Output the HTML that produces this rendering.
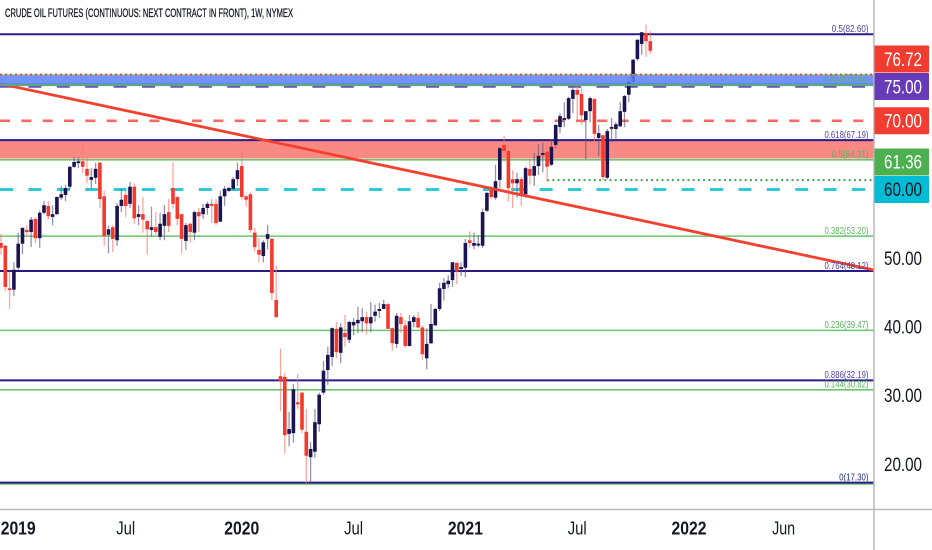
<!DOCTYPE html>
<html lang="en">
<head>
<meta charset="utf-8">
<title>Crude Oil Futures weekly chart</title>
<style>
html,body{margin:0;padding:0;background:#fff;}
svg{display:block;font-family:"Liberation Sans",sans-serif;}
</style>
</head>
<body>
<svg id="chart" width="932" height="550" viewBox="0 0 932 550" xmlns="http://www.w3.org/2000/svg">
<rect x="0" y="0" width="932" height="550" fill="#ffffff"/>
<text x="5" y="17" font-size="11.5" fill="#131722" stroke="#131722" stroke-width="0.3" textLength="288" lengthAdjust="spacingAndGlyphs">CRUDE OIL FUTURES (CONTINUOUS: NEXT CONTRACT IN FRONT), 1W, NYMEX</text>
<g id="under"></g>
<g id="candles"></g>
<g id="over"></g>
<g id="fibs"></g>
<line x1="874" y1="0" x2="874" y2="550" stroke="#b9b9bd" stroke-width="1.5"/>
<line x1="0" y1="509.5" x2="932" y2="509.5" stroke="#b9b9bd" stroke-width="1.5"/>
<g id="axes"></g>
</svg>
<script>
const opens=[52.2,51.8,45.6,45.4,48.6,52.1,54.1,53.8,55.7,52.9,56.6,57.6,56.0,56.4,58.8,59.2,60.4,63.3,63.9,64.1,63.0,61.4,61.7,63.9,59.0,53.4,54.5,52.6,57.6,59.2,
57.9,60.4,56.0,56.4,55.4,54.1,54.5,53.1,54.7,56.7,60.2,58.9,56.4,52.5,55.0,53.7,56.7,56.4,57.3,57.9,57.9,55.3,59.0,59.8,60.1,61.5,63.4,59.0,59.3,53.7,51.2,50.3,52.8,52.8,43.9,
32.8,32.7,24.4,24.5,29.0,30.4,24.7,21.0,21.8,25.8,30.4,33.7,35.6,39.7,
36.2,39.1,38.1,40.2,40.5,40.8,41.4,40.5,41.6,42.3,42.6,43.3,39.8,37.5,41.4,40.2,37.2,40.7,41.3,39.9,35.4,37.6,40.2,42.6,45.5,46.2,46.8,49.3,48.4,48.6,52.6,51.8,51.9,51.8,56.9,59.9,58.8,61.4,66.5,65.6,61.5,60.9,61.5,59.3,63.0,62.0,63.4,65.2,65.5,63.6,66.5,69.1,70.3,70.3,73.2,74.5,73.9,70.1,71.4,73.2,67.5,67.9,61.7,68.9,68.8,69.2,71.3,73.8,75.7,79.0,81.2,82.8,81.6];
const highs=[53.5,51.9,48.0,49.4,53.7,54.5,54.8,56.0,56.0,56.9,58.3,58.3,57.7,59.0,60.5,60.7,63.4,64.7,64.7,66.5,64.9,63.1,63.9,64.0,59.8,54.7,54.8,58.0,60.1,59.9,
61.1,60.9,57.7,58.9,55.6,57.5,56.7,56.6,57.7,58.6,64.0,59.0,56.4,55.1,55.1,56.9,57.3,57.9,58.2,58.6,58.6,59.8,60.5,60.4,61.8,63.9,65.5,59.2,59.6,54.4,52.9,52.6,54.8,52.9,48.9,
36.8,33.3,27.6,31.7,33.1,30.5,28.0,23.2,28.0,30.4,35.0,37.1,39.9,40.7,
40.5,41.7,40.8,41.3,42.9,42.7,42.2,43.6,43.2,43.5,43.9,43.5,39.9,42.0,42.0,41.0,41.7,41.7,42.2,40.2,39.8,43.3,42.7,46.4,47.1,47.5,49.4,49.4,49.4,52.8,53.9,53.7,53.4,57.2,59.6,60.5,63.6,66.2,67.8,66.5,62.8,62.4,61.8,63.3,64.3,65.3,66.6,66.8,66.9,67.2,69.5,71.1,72.7,73.5,75.2,76.1,74.9,71.4,73.5,73.2,69.4,67.9,68.8,70.4,69.8,72.7,73.8,76.4,79.0,81.9,82.9,84.0,83.1];
const lows=[50.5,45.2,42.6,44.5,48.3,50.6,53.1,51.6,52.2,51.5,56.4,55.6,54.8,56.3,58.5,58.3,59.9,63.1,63.1,62.4,60.9,60.1,60.8,57.3,51.8,50.7,50.9,51.8,56.7,56.0,
57.3,55.0,54.8,53.7,50.5,53.1,53.4,52.6,52.6,53.8,57.2,54.8,50.7,51.2,52.3,52.6,53.8,55.7,56.3,55.1,54.8,55.3,57.6,59.6,59.8,60.5,58.5,57.5,53.7,51.0,49.4,49.4,51.3,43.9,41.3,
27.7,21.5,22.6,23.1,28.0,24.5,17.2,17.1,20.9,24.7,30.1,31.5,34.3,35.4,
34.7,37.1,37.6,38.8,39.1,39.2,38.9,39.2,40.7,41.3,42.6,39.7,36.5,36.9,39.1,36.9,37.1,39.9,39.8,35.2,33.8,37.5,40.2,42.3,43.8,45.6,45.8,46.2,47.4,47.2,51.5,51.3,51.6,51.5,56.7,58.6,58.5,60.2,64.0,58.2,57.3,58.8,57.6,58.8,60.7,60.5,62.1,62.5,61.1,63.4,66.0,68.2,69.1,70.1,71.1,70.1,69.4,64.4,69.8,67.1,64.9,61.4,61.5,66.9,67.4,69.1,69.1,72.7,74.8,78.7,79.6,79.3,79.7];
const closes=[51.5,45.8,45.5,48.3,52.1,54.4,53.8,55.6,52.9,56.6,57.7,56.1,56.4,58.9,59.3,60.2,63.3,64.0,64.1,63.3,62.0,61.8,63.0,58.6,53.2,54.2,52.8,57.6,58.5,57.6,
60.4,55.8,56.4,55.6,54.2,54.5,53.8,55.0,56.4,54.7,57.9,55.7,52.8,54.8,53.8,56.7,56.1,57.3,57.9,57.6,55.1,59.0,60.1,60.2,61.5,62.8,58.9,58.5,54.1,51.6,50.5,52.3,53.5,44.9,41.4,
32.0,24.2,25.1,30.9,28.7,25.0,21.2,22.2,26.1,30.1,33.6,35.9,39.8,36.3,
39.9,38.5,40.7,40.7,41.0,41.4,40.5,41.4,42.2,42.6,43.3,39.7,37.6,41.6,40.4,37.2,40.8,41.4,39.9,36.0,37.5,40.4,42.6,45.6,46.4,46.7,49.4,48.1,48.7,52.2,52.2,52.2,52.1,56.7,59.5,58.9,61.2,66.0,65.6,60.2,60.9,61.5,59.3,63.1,62.0,63.4,64.9,65.3,63.3,66.2,69.4,70.7,70.4,73.3,74.5,73.8,70.8,71.4,73.3,68.1,68.2,61.8,68.5,69.1,69.5,71.4,73.6,75.7,78.9,81.8,82.9,81.6,80.2];

const fibRatios=['0.5','0.618','0.618','0.5','0.382','0.764','0.236','0.886','0.144','0','0'];
const fibPrices=[82.60,75.41,67.19,64.31,53.20,48.12,39.47,32.19,30.82,17.30,17.30];
const fibFamilies=['navy','green','navy','green','green','navy','green','navy','green','green','navy'];

const priceTicks=[50,40,30,20];
const markerPrices=[76.72,75.00,70.00,61.36,60.00];
const dashedLevels=[75.00,70.00,60.00];
const dottedLevels=[76.72,61.36];
const resistanceZone=[76.65,75.2];
const supportZone=[67.19,64.5];
const trendlinePrices=[75.4,48.26];
const dateLabels=['2019','Jul','2020','Jul','2021','Jul','2022','Jun'];
const dateWeeks=[4,29,56,82,108,134,160,182];

const SVGNS='http://www.w3.org/2000/svg';
const plotRight=874;
const yScale=p=>34.3+(82.6-p)*6.865;
const xScale=i=>1+4.3*i;
const navy='#1a1451', red='#f5392d', green='#6cc56c';
const under=document.getElementById('under');
const candlesG=document.getElementById('candles');
const over=document.getElementById('over');
const fibsG=document.getElementById('fibs');
const axes=document.getElementById('axes');

function make(tag,parent,attrs){
  const el=document.createElementNS(SVGNS,tag);
  for(const k in attrs) el.setAttribute(k,attrs[k]);
  parent.appendChild(el);
  return el;
}

/* support zone */
{
  const el=make('rect',under,{x:0,y:yScale(supportZone[0]),width:plotRight,height:yScale(supportZone[1])-yScale(supportZone[0]),fill:'#f98a83'});
  
  
}
/* fib lines */
fibPrices.forEach((p,i)=>{
  const isNavy=fibFamilies[i]==='navy';
  const offset=(p===17.30&&!isNavy)?1.4:0;
  const el=make('line',under,{x1:0,x2:plotRight,y1:yScale(p)+offset,y2:yScale(p)+offset,stroke:isNavy?'#2a1a8a':green,'stroke-width':isNavy?2:1.6});
  
  
});
/* dashed levels */
const dashStyles={75:['#6a4fb8','13 15.4',2.6],70:['#f86a60','10 11.33',2.6],60:['#2fcad8','13 15.4',3]};
dashedLevels.forEach(p=>{
  const s=dashStyles[p];
  const el=make('line',under,{x1:0,x2:plotRight-3,y1:yScale(p),y2:yScale(p),stroke:s[0],'stroke-dasharray':s[1],'stroke-width':s[2]});
  
  
});
/* dotted levels */
{
  const el2=make('line',under,{x1:xScale(127),x2:plotRight,y1:yScale(dottedLevels[1]),y2:yScale(dottedLevels[1]),stroke:'#3fa64a','stroke-dasharray':'2 3.2','stroke-width':2});
  
  
}
/* candles */
closes.forEach((c,i)=>{
  const o=opens[i], up=c>=o, x=xScale(i);
  const wick=make('line',candlesG,{x1:x,x2:x,y1:yScale(highs[i]),y2:yScale(lows[i]),stroke:up?'#5c5880':'#f7776e','stroke-width':1.3,'stroke-opacity':0.65});
  
  
  const top=yScale(Math.max(o,c)), bot=yScale(Math.min(o,c));
  const body=make('rect',candlesG,{x:x-1.8,y:top,width:3.6,height:Math.max(bot-top,1.8),fill:up?navy:red});
  
  
});
/* trendline */
{
  const el=make('line',over,{x1:0,x2:plotRight,y1:yScale(trendlinePrices[0]),y2:yScale(trendlinePrices[1]),stroke:'#f4402f','stroke-width':2.8});
  
  
}
/* resistance zone */
{
  const el=make('rect',over,{x:0,y:yScale(resistanceZone[0]),width:plotRight,height:yScale(resistanceZone[1])-yScale(resistanceZone[0]),fill:'#5a80fb','fill-opacity':0.85});
  
  
  const edge=make('line',over,{x1:0,x2:plotRight,y1:yScale(resistanceZone[1]),y2:yScale(resistanceZone[1]),stroke:'#5fa87a','stroke-width':2});
  
  
  const topEdge=make('line',over,{x1:0,x2:plotRight,y1:yScale(dottedLevels[0]),y2:yScale(dottedLevels[0]),stroke:'#8fd09a','stroke-width':1.2});
  
  
  const dots=make('line',over,{x1:0,x2:plotRight,y1:yScale(dottedLevels[0]),y2:yScale(dottedLevels[0]),stroke:'#e8483c','stroke-dasharray':'2 3','stroke-width':2});
  
  
}
/* fib labels */
fibPrices.forEach((p,i)=>{
  const isNavy=fibFamilies[i]==='navy';
  const txt=fibRatios[i]+'('+p.toFixed(2)+')';
  const w=txt.length*3.67;
  const el=make('text',fibsG,{x:868.5-w,y:yScale(p)-2.2,'font-size':10.5,fill:isNavy?'#4b3fa5':'#57b45c',textLength:w,lengthAdjust:'spacingAndGlyphs'});
  el.textContent=txt;
  
  
});
/* price ticks */
priceTicks.forEach(p=>{
  const el=make('text',axes,{x:884,y:yScale(p)+6.8,'font-size':19,fill:'#131722',textLength:38,lengthAdjust:'spacingAndGlyphs'});
  el.textContent=p.toFixed(2);
  
  
});
/* price markers: stacked clear of each other as on the source chart */
const markerFill={'76.72':'#f23c30','75.00':'#673ab7','70.00':'#f23c30','61.36':'#4caf50','60.00':'#00bcd4'};
const markerDisplayedAbove={'76.72':75.00,'61.36':60.00};
markerPrices.forEach(p=>{
  const key=p.toFixed(2);
  const cy=markerDisplayedAbove[key]!==undefined?yScale(markerDisplayedAbove[key])-27.5:yScale(p);
  const box=make('rect',axes,{x:874.5,y:cy-13.5,width:54.5,height:27,rx:1,fill:markerFill[key]});
  
  
  const t=make('text',axes,{x:884,y:cy+6.8,'font-size':19,fill:key==='60.00'?'#131722':'#ffffff',textLength:38,lengthAdjust:'spacingAndGlyphs'});
  t.textContent=key;
  
  
});
/* time axis */
dateLabels.forEach((d,i)=>{
  const isYear=/^\d/.test(d);
  const w=isYear?35:(d==='Jun'?23:19);
  const el=make('text',axes,{x:xScale(dateWeeks[i])-w/2,y:534.5,'font-size':18,'font-weight':isYear?'bold':'normal',fill:'#131722',textLength:w,lengthAdjust:'spacingAndGlyphs'});
  el.textContent=d;
  
  
});
</script>
</body>
</html>
